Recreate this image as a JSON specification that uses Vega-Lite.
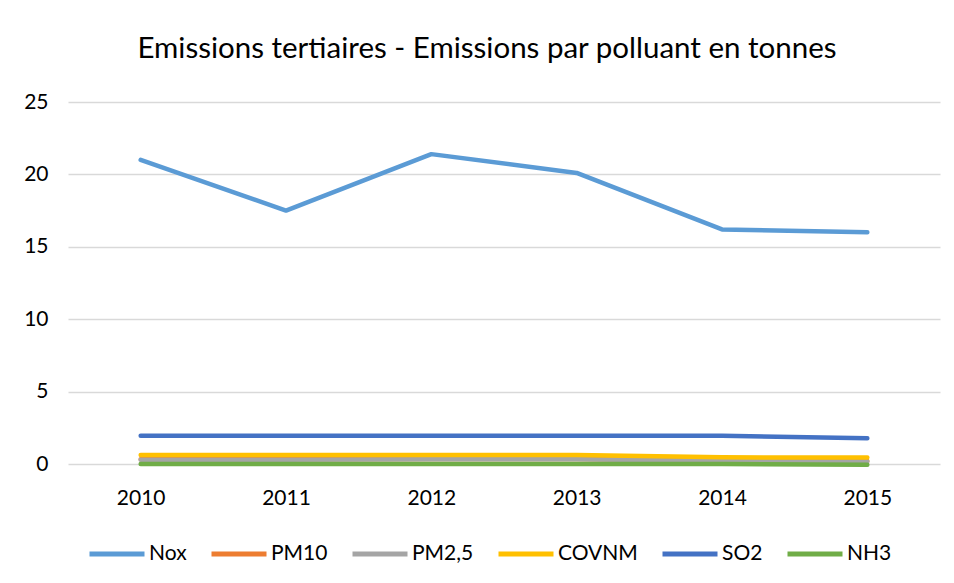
{
  "$schema": "https://vega.github.io/schema/vega-lite/v6.json",
  "width": 872,
  "height": 362,
  "autosize": "none",
  "padding": {"left": 68, "top": 102, "right": 14, "bottom": 119},
  "background": "white",
  "title": {
    "text": "Emissions tertiaires - Emissions par polluant en tonnes",
    "fontSize": 29.5,
    "font": "Lato",
    "fontWeight": "normal",
    "color": "#000000",
    "anchor": "middle",
    "dx": -17,
    "offset": 27
  },
  "config": {
    "view": {"stroke": null},
    "font": "Lato"
  },
  "data": {
    "values": [
      {"year": "2010", "polluant": "Nox", "t": 21.0},
      {"year": "2011", "polluant": "Nox", "t": 17.5},
      {"year": "2012", "polluant": "Nox", "t": 21.4},
      {"year": "2013", "polluant": "Nox", "t": 20.1},
      {"year": "2014", "polluant": "Nox", "t": 16.2},
      {"year": "2015", "polluant": "Nox", "t": 16.0},
      {"year": "2010", "polluant": "PM10", "t": 0.32},
      {"year": "2011", "polluant": "PM10", "t": 0.32},
      {"year": "2012", "polluant": "PM10", "t": 0.34},
      {"year": "2013", "polluant": "PM10", "t": 0.34},
      {"year": "2014", "polluant": "PM10", "t": 0.22},
      {"year": "2015", "polluant": "PM10", "t": 0.2},
      {"year": "2010", "polluant": "PM2,5", "t": 0.3},
      {"year": "2011", "polluant": "PM2,5", "t": 0.3},
      {"year": "2012", "polluant": "PM2,5", "t": 0.32},
      {"year": "2013", "polluant": "PM2,5", "t": 0.32},
      {"year": "2014", "polluant": "PM2,5", "t": 0.2},
      {"year": "2015", "polluant": "PM2,5", "t": 0.18},
      {"year": "2010", "polluant": "COVNM", "t": 0.62},
      {"year": "2011", "polluant": "COVNM", "t": 0.62},
      {"year": "2012", "polluant": "COVNM", "t": 0.63},
      {"year": "2013", "polluant": "COVNM", "t": 0.62},
      {"year": "2014", "polluant": "COVNM", "t": 0.46},
      {"year": "2015", "polluant": "COVNM", "t": 0.45},
      {"year": "2010", "polluant": "SO2", "t": 1.95},
      {"year": "2011", "polluant": "SO2", "t": 1.95},
      {"year": "2012", "polluant": "SO2", "t": 1.95},
      {"year": "2013", "polluant": "SO2", "t": 1.95},
      {"year": "2014", "polluant": "SO2", "t": 1.95},
      {"year": "2015", "polluant": "SO2", "t": 1.78},
      {"year": "2010", "polluant": "NH3", "t": 0.0},
      {"year": "2011", "polluant": "NH3", "t": 0.0},
      {"year": "2012", "polluant": "NH3", "t": 0.0},
      {"year": "2013", "polluant": "NH3", "t": 0.0},
      {"year": "2014", "polluant": "NH3", "t": 0.0},
      {"year": "2015", "polluant": "NH3", "t": -0.05}
    ]
  },
  "mark": {"type": "line", "strokeWidth": 4.5, "strokeCap": "round", "strokeJoin": "round", "clip": false},
  "encoding": {
    "x": {
      "field": "year",
      "type": "ordinal",
      "scale": {"type": "point", "padding": 0.5},
      "axis": {
        "title": null,
        "labelAngle": 0,
        "labelFontSize": 21,
        "labelColor": "#000000",
        "labelPadding": 23,
        "ticks": false,
        "domain": false,
        "grid": false
      }
    },
    "y": {
      "field": "t",
      "type": "quantitative",
      "scale": {"domain": [0, 25], "nice": false, "zero": true},
      "axis": {
        "title": null,
        "values": [0, 5, 10, 15, 20, 25],
        "labelFontSize": 21,
        "labelColor": "#000000",
        "labelPadding": 20,
        "ticks": false,
        "domain": false,
        "grid": true,
        "gridColor": "#d9d9d9",
        "gridWidth": 1.5
      }
    },
    "color": {
      "field": "polluant",
      "type": "nominal",
      "sort": ["Nox", "PM10", "PM2,5", "COVNM", "SO2", "NH3"],
      "scale": {
        "domain": ["Nox", "PM10", "PM2,5", "COVNM", "SO2", "NH3"],
        "range": ["#5B9BD5", "#ED7D31", "#A5A5A5", "#FFC000", "#4472C4", "#70AD47"]
      },
      "legend": {
        "title": null,
        "orient": "none",
        "direction": "horizontal",
        "legendX": 19,
        "legendY": 422,
        "symbolType": "stroke",
        "symbolSize": 3025,
        "symbolStrokeWidth": 5,
        "labelFontSize": 21,
        "labelColor": "#000000",
        "labelOffset": 2,
        "columnPadding": 14,
        "columns": 6
      }
    }
  }
}
